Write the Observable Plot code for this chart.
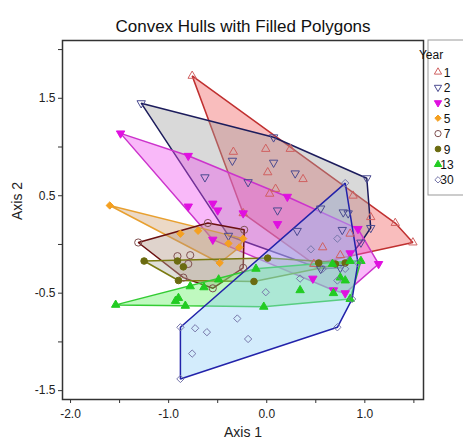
<!DOCTYPE html>
<html><head><meta charset="utf-8">
<script src="https://cdn.jsdelivr.net/npm/d3@7"></script>
<script src="https://cdn.jsdelivr.net/npm/@observablehq/plot@0.6"></script>
<style>
body{margin:0;background:#fff}
svg{font-family:"Liberation Sans",Arial,sans-serif}
</style>
</head><body><div id="chart"></div>
<script>
const years = ["1","2","3","5","7","9","13","30"];
const year1 = [[-0.76,1.73],[-0.34,0.95],[-0.01,0.98],[0.24,0.98],[0.01,0.74],[0.37,0.67],[0.09,0.57],[0.03,0.52],[0.88,0.50],[1.06,0.28],[1.31,0.22],[0.85,0.11],[0.57,-0.03],[0.75,-0.11],[1.49,0.02],[-0.24,0.32],[0.48,-0.20]];
const year2 = [[-1.28,1.45],[0.07,1.10],[1.02,0.68],[1.06,0.17],[0.96,0.02],[0.75,-0.24],[0.55,-0.25],[-0.39,0.09],[-0.35,0.86],[0.07,0.84],[0.29,0.73],[-0.63,0.69],[-0.19,0.64],[0.11,0.35],[0.55,0.37],[0.78,0.33],[0.83,0.32],[0.77,0.15],[0.31,0.14]];
const year3 = [[-1.49,1.14],[-0.80,0.91],[0.21,0.49],[0.93,0.16],[1.14,-0.20],[0.80,-0.50],[0.68,-0.47],[0.47,-0.35],[0.85,-0.09],[0.11,0.21],[-0.24,0.32],[-0.50,0.35],[-0.55,0.42],[-0.80,0.39],[-0.55,0.05]];
const year5 = [[-1.60,0.40],[-0.88,0.11],[-0.70,0.14],[-0.39,0.01],[-0.28,-0.03],[-0.48,-0.19],[-0.24,0.06]];
const year7 = [[-1.31,0.02],[-0.60,0.22],[-0.23,0.15],[-0.24,-0.24],[-0.55,-0.45],[-0.91,-0.12],[-0.78,-0.11],[-0.80,-0.20],[-0.85,-0.34]];
const year9 = [[-1.25,-0.17],[-0.91,-0.17],[-0.85,-0.23],[-0.90,-0.37],[-0.13,-0.38],[0.01,-0.14],[0.53,-0.19],[0.70,-0.20],[0.80,-0.19]];
const year13 = [[-1.54,-0.62],[-0.93,-0.58],[-0.90,-0.55],[-0.83,-0.63],[-0.78,-0.43],[-0.64,-0.44],[-0.49,-0.36],[-0.11,-0.25],[-0.03,-0.64],[0.34,-0.47],[0.68,-0.50],[0.75,-0.34],[0.80,-0.37],[0.85,-0.56],[0.67,-0.20],[0.85,-0.17],[0.96,-0.17]];
const year30 = [[-0.88,-1.38],[-0.88,-0.85],[0.72,-0.85],[0.80,0.63],[-0.73,-0.86],[-0.61,-0.90],[-0.30,-0.76],[-0.19,-0.97],[-0.76,-1.12],[0.45,-0.05],[0.72,0.06],[-0.01,-0.49],[0.34,-0.35],[0.72,-0.37],[0.80,-0.25],[0.57,-0.25],[0.93,-0.19],[0.87,-0.56]];
const xTicks = [-2.0,-1.5,-1.0,-0.5,0.0,0.5,1.0,1.5];
const yTicks = [-1.5,-1.0,-0.5,0.0,0.5,1.0,1.5,2.0];
const xTickLabels = ["-2.0","-1.0","0.0","1.0"];
const yTickLabels = ["-1.5","-0.5","0.5","1.5"];

const groups = {"1":year1,"2":year2,"3":year3,"5":year5,"7":year7,"9":year9,"13":year13,"30":year30};

const sqrt3 = Math.sqrt(3);
const triDown = {draw(ctx, size){const s=Math.sqrt(size)*0.6824,t=s/2,u=s*sqrt3/2;ctx.moveTo(0,s);ctx.lineTo(u,-t);ctx.lineTo(-u,-t);ctx.closePath();}};
const triUp = d3.symbolTriangle2;

const style = {
  "1": {hullFill:"#f05a5a", hullStroke:"#c03030", symbol:triUp, dotFill:"none", dotStroke:"#d06060", r:4},
  "2": {hullFill:"#a0a0a0", hullStroke:"#1c1c5c", symbol:triDown, dotFill:"none", dotStroke:"#4a4a90", r:4},
  "3": {hullFill:"#f050f0", hullStroke:"#cc33cc", symbol:triDown, dotFill:"#e010e0", dotStroke:"#e010e0", r:4},
  "5": {hullFill:"#d0a070", hullStroke:"#e8a030", symbol:d3.symbolDiamond2, dotFill:"#f5a020", dotStroke:"#f5a020", r:3.3},
  "7": {hullFill:"#b09080", hullStroke:"#6a1010", symbol:d3.symbolCircle, dotFill:"none", dotStroke:"#805050", r:3.6},
  "9": {hullFill:"#b0b0a0", hullStroke:"#7a7a10", symbol:d3.symbolCircle, dotFill:"#6b6b10", dotStroke:"#6b6b10", r:3.3},
  "13": {hullFill:"#60f060", hullStroke:"#33cc33", symbol:triUp, dotFill:"#22cc22", dotStroke:"#22cc22", r:4},
  "30": {hullFill:"#90d0f8", hullStroke:"#2222aa", symbol:d3.symbolDiamond2, dotFill:"none", dotStroke:"#7777aa", r:3.3}
};

const rows = [];
years.forEach(yr => groups[yr].forEach(([x,y]) => rows.push({year:yr, x, y})));

const marks = [];
years.forEach(yr => {
  const d = rows.filter(r => r.year === yr);
  const s = style[yr];
  marks.push(Plot.hull(d, {x:"x", y:"y", fill:s.hullFill, fillOpacity:0.4, stroke:s.hullStroke, strokeWidth:1.5}));
});
years.forEach(yr => {
  const d = rows.filter(r => r.year === yr);
  const s = style[yr];
  marks.push(Plot.dot(d, {x:"x", y:"y", symbol:s.symbol, r:s.r, fill:s.dotFill, stroke:s.dotStroke, strokeWidth:1}));
});
marks.push(Plot.frame({stroke:"#333", strokeWidth:1.5}));
const fmt = v => v.toFixed(1);
marks.push(Plot.axisX({ticks:xTicks, tickSize:4, tickPadding:6, fontSize:12, fill:"#222", stroke:"#333", label:null,
  tickFormat: v => xTickLabels.includes(fmt(v)) ? fmt(v) : ""}));
marks.push(Plot.axisY({ticks:yTicks, tickSize:4, tickPadding:3, fontSize:12, fill:"#222", stroke:"#333", label:null,
  tickFormat: v => yTickLabels.includes(fmt(v)) ? fmt(v) : ""}));
marks.push(Plot.text(["Axis 1"], {frameAnchor:"bottom", dy:37, fontSize:14, fill:"#222"}));
marks.push(Plot.text(["Axis 2"], {frameAnchor:"left", dx:-45, rotate:-90, fontSize:14, fill:"#222"}));
marks.push(Plot.text(["Convex Hulls with Filled Polygons"], {frameAnchor:"top", dy:-21, fontSize:17, fill:"#111"}));

const chart = Plot.plot({
  width:463, height:443,
  marginLeft:62, marginRight:40, marginTop:40, marginBottom:44,
  x:{domain:[-2.082,1.598]},
  y:{domain:[-1.591,2.093]},
  style:{fontFamily:"'Liberation Sans',Arial,sans-serif", background:"#fff"},
  marks
});
document.getElementById("chart").appendChild(chart);

// legend
const svg = d3.select(chart);
const lg = svg.append("g").attr("transform","translate(428,40)");
lg.append("rect").attr("x",0).attr("y",0).attr("width",40).attr("height",155)
  .attr("fill","#fff").attr("stroke","#999").attr("stroke-width",1);
lg.append("text").attr("x",3).attr("y",19).attr("font-size",12).attr("fill","#111").text("Year");
years.forEach((yr,i) => {
  const s = style[yr];
  const cy = 32 + i*15.4;
  lg.append("path").attr("transform",`translate(10,${cy})`)
    .attr("d", d3.symbol(s.symbol, s.r*s.r*Math.PI*0.75)())
    .attr("fill", s.dotFill).attr("stroke", s.dotStroke).attr("stroke-width",1);
  lg.append("text").attr("x",19).attr("y",cy+4.5).attr("font-size",12).attr("fill","#111").text(yr);
});
</script>
</body></html>
